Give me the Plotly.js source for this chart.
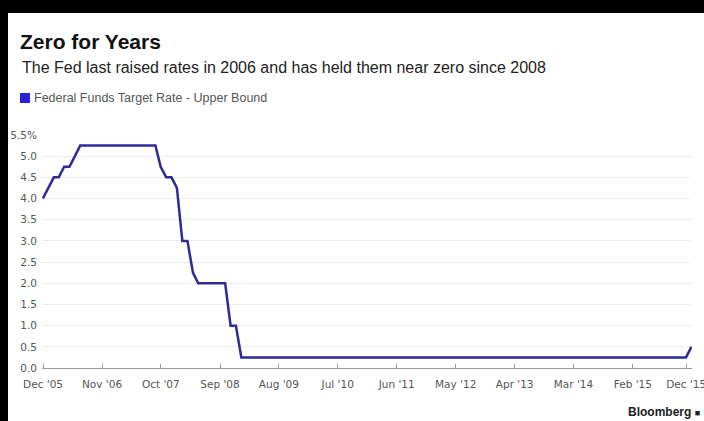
<!DOCTYPE html>
<html>
<head>
<meta charset="utf-8">
<script src="https://cdn.plot.ly/plotly-3.0.1.min.js"></script>
<style>
  html, body { margin: 0; padding: 0; background: #000; width: 704px; height: 421px; overflow: hidden; }
  #chart { position: absolute; left: 8px; top: 13px; width: 696px; height: 408px; background: #fff; }
</style>
</head>
<body>
<div id="chart"></div>
<script>
// Federal Funds Target Rate - Upper Bound (month-end samples, change points)
var dates = ['2005-11-30','2005-12-31','2006-01-31','2006-02-28','2006-03-31','2006-04-30',
             '2006-05-31','2006-06-30','2007-08-31','2007-09-30','2007-10-31','2007-11-30',
             '2007-12-31','2008-01-31','2008-02-29','2008-03-31','2008-04-30','2008-09-30',
             '2008-10-31','2008-11-30','2008-12-31','2015-11-30','2015-12-31'];
var rates = [4.0, 4.25, 4.5, 4.5, 4.75, 4.75,
             5.0, 5.25, 5.25, 4.75, 4.5, 4.5,
             4.25, 3.0, 3.0, 2.25, 2.0, 2.0,
             1.0, 1.0, 0.25, 0.25, 0.5];

var xTickVals = ['2005-12-01','2006-11-01','2007-10-01','2008-09-01','2009-08-01','2010-07-01',
                 '2011-06-01','2012-05-01','2013-04-01','2014-03-01','2015-02-01','2015-12-01'];
var xTickText = ["Dec '05","Nov '06","Oct '07","Sep '08","Aug '09","Jul '10",
                 "Jun '11","May '12","Apr '13","Mar '14","Feb '15","Dec '15"];
var yTickVals = [0,0.5,1,1.5,2,2.5,3,3.5,4,4.5,5,5.5];
var yTickText = ['0.0','0.5','1.0','1.5','2.0','2.5','3.0','3.5','4.0','4.5','5.0','5.5%'];

var seriesName = 'Federal Funds Target Rate - Upper Bound';
var titleText = 'Zero for Years';
var subtitleText = 'The Fed last raised rates in 2006 and has held them near zero since 2008';

var trace = {
  x: dates, y: rates, type: 'scatter', mode: 'lines', name: seriesName,
  line: {color: '#2e2a96', width: 2.5}, hoverinfo: 'x+y'
};

var tickFont = {family: 'DejaVu Sans', size: 10.5, color: '#555'};

var layout = {
  width: 696, height: 408,
  margin: {l: 34, r: 12, t: 122, b: 53},
  paper_bgcolor: '#fff', plot_bgcolor: '#fff',
  showlegend: false,
  title: {
    text: titleText, xref: 'container', yref: 'container',
    x: 12/696, xanchor: 'left', y: 1 - 29/408, yanchor: 'middle',
    font: {family: 'Liberation Sans', size: 21, color: '#111', weight: 'bold'}
  },
  xaxis: {
    type: 'date', range: ['2005-11-25', '2016-01-03'],
    tickvals: xTickVals, ticktext: xTickText,
    showgrid: false, showline: true, linecolor: '#999', linewidth: 1,
    ticks: 'inside', ticklen: 4, tickcolor: '#999',
    tickfont: tickFont, ticklabelstandoff: 6, ticklabeloverflow: 'allow',
    fixedrange: true
  },
  yaxis: {
    range: [0, 5.5], tickvals: yTickVals, ticktext: yTickText,
    showgrid: true, gridcolor: '#ececec', gridwidth: 1,
    zeroline: false, showline: false, ticks: '',
    tickfont: tickFont, ticklabelstandoff: 4, fixedrange: true
  },
  shapes: [{
    type: 'rect', xref: 'paper', yref: 'paper',
    x0: (20-42)/650, x1: (30-42)/650, y0: (368-103)/233, y1: (368-93)/233,
    fillcolor: '#2a22d6', line: {width: 0}
  }],
  annotations: [
    {text: subtitleText, xref: 'paper', yref: 'paper', x: (20-42)/650, y: (368-68)/233,
     xanchor: 'left', yanchor: 'middle', showarrow: false,
     font: {family: 'Liberation Sans', size: 16, color: '#222'}},
    {text: seriesName, xref: 'paper', yref: 'paper', x: (32-42)/650, y: (368-98)/233,
     xanchor: 'left', yanchor: 'middle', showarrow: false,
     font: {family: 'Liberation Sans', size: 12.5, color: '#555'}},
    {text: 'Bloomberg <span style="font-size:9px">■</span>', xref: 'paper', yref: 'paper',
     x: (702-42)/650, y: (368-412)/233,
     xanchor: 'right', yanchor: 'middle', showarrow: false,
     font: {family: 'Liberation Sans', size: 12, color: '#222', weight: 'bold'}}
  ]
};

Plotly.newPlot('chart', [trace], layout, {displayModeBar: false, staticPlot: true});
</script>
</body>
</html>
